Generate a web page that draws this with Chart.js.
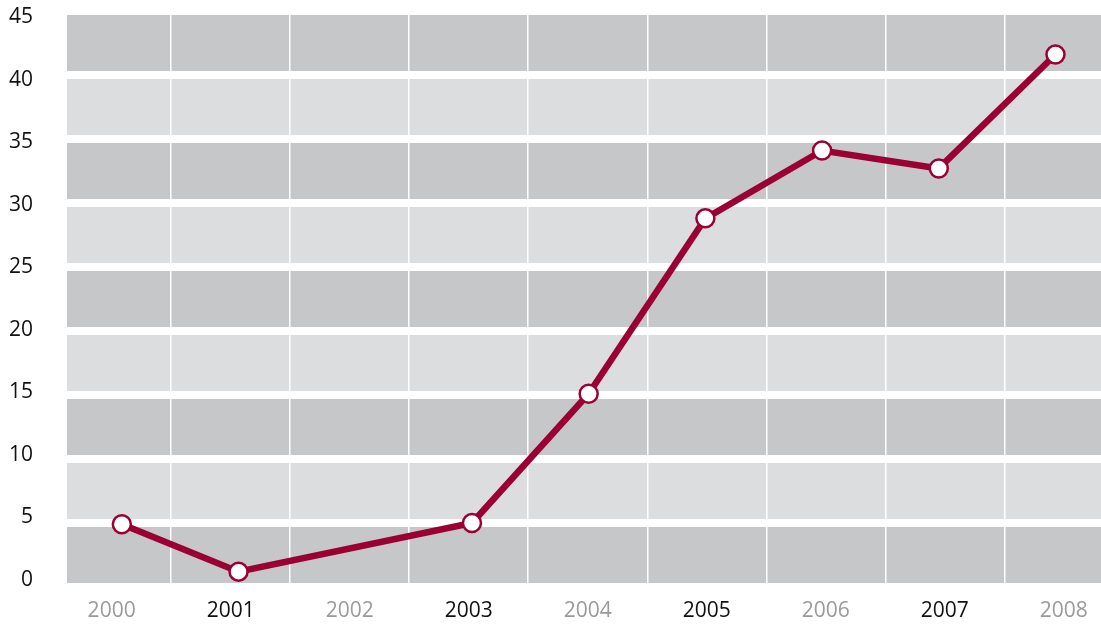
<!DOCTYPE html>
<html>
<head>
<meta charset="utf-8">
<script src="https://cdn.jsdelivr.net/npm/chart.js@4/dist/chart.umd.min.js"></script>
<style>
  html, body { margin: 0; padding: 0; background: #fff; overflow: hidden; }
  #wrap { width: 1101px; height: 627px; position: relative; }
  canvas { display: block; }
</style>
</head>
<body>
<div id="wrap"><canvas id="lineChart"></canvas></div>
<script>
const years = [2000, 2001, 2002, 2003, 2004, 2005, 2006, 2007, 2008];
const yearLabels = ['2000', '2001', '2002', '2003', '2004', '2005', '2006', '2007', '2008'];
const values = [4.9, 1.2, null, 5.0, 15.1, 28.8, 34.1, 32.7, 41.6];
const yTicks = [0, 5, 10, 15, 20, 25, 30, 35, 40, 45];

const lineColor = '#9a0032';
const darkBand = '#c6c7c9';
const lightBand = '#dcdddf';

// alternating grey bands, one per 5 units
const bandPlugin = {
    id: 'bands',
    beforeDraw(chart) {
        const { ctx, chartArea, scales } = chart;
        const y = scales.y;
        ctx.save();
        for (let i = 0; i < yTicks.length - 1; i++) {
            const top = y.getPixelForValue(yTicks[i + 1]);
            const bottom = y.getPixelForValue(yTicks[i]);
            ctx.fillStyle = i % 2 === 0 ? darkBand : lightBand;
            ctx.fillRect(chartArea.left, top, chartArea.right - chartArea.left, bottom - top);
        }
        ctx.restore();
    }
};

const noPad = (s) => { s.paddingLeft = 0; s.paddingRight = 0; s.paddingTop = 0; s.paddingBottom = 0; };

document.addEventListener('DOMContentLoaded', () => {
    const ctx = document.getElementById('lineChart').getContext('2d');

    new Chart(ctx, {
        type: 'line',
        data: {
            datasets: [{
                data: years.map((yr, i) => ({ x: yr, y: values[i] })),
                borderColor: lineColor,
                borderWidth: 6.5,
                pointRadius: 9,
                pointBorderWidth: 2.5,
                pointBackgroundColor: '#ffffff',
                pointBorderColor: lineColor,
                spanGaps: true,
                tension: 0
            }]
        },
        options: {
            responsive: true,
            maintainAspectRatio: false,
            animation: false,
            layout: { autoPadding: false, padding: { top: 11, left: 0, right: 0, bottom: 0 } },
            plugins: {
                legend: { display: false },
                tooltip: { enabled: false }
            },
            scales: {
                x: {
                    type: 'linear',
                    display: false,
                    min: 1999.53,
                    max: 2008.39,
                    afterFit: noPad
                },
                xl: {
                    type: 'linear',
                    position: 'bottom',
                    min: 1999.625,
                    max: 2008.312,
                    afterBuildTicks: (s) => { s.ticks = years.map(v => ({ value: v })); },
                    afterFit: (s) => { noPad(s); s.height = 40; },
                    grid: {
                        offset: true,
                        color: '#ffffff',
                        lineWidth: 1.5,
                        drawTicks: false
                    },
                    border: { display: false },
                    ticks: {
                        padding: 11,
                        maxRotation: 0,
                        autoSkip: false,
                        font: { family: 'Open Sans', size: 21 },
                        color: (c) => c.index % 2 === 1 ? '#111111' : '#9a9a9a',
                        callback: (v, i) => yearLabels[i]
                    }
                },
                y: {
                    type: 'linear',
                    position: 'left',
                    min: 0,
                    max: 45,
                    afterBuildTicks: (s) => { s.ticks = yTicks.map(v => ({ value: v })); },
                    afterFit: (s) => { noPad(s); s.width = 0; },
                    grid: {
                        color: '#ffffff',
                        lineWidth: 8,
                        drawTicks: false
                    },
                    border: { display: false },
                    ticks: { display: false }
                },
                yl: {
                    type: 'linear',
                    position: 'left',
                    min: -0.56,
                    max: 45.48,
                    afterBuildTicks: (s) => { s.ticks = yTicks.map(v => ({ value: v })); },
                    afterFit: (s) => { noPad(s); s.width = 67; },
                    grid: { display: false, drawTicks: false },
                    border: { display: false },
                    ticks: {
                        padding: 34,
                        font: { family: 'Open Sans', size: 21 },
                        color: '#111111'
                    }
                }
            }
        },
        plugins: [bandPlugin]
    });
});
</script>
</body>
</html>
